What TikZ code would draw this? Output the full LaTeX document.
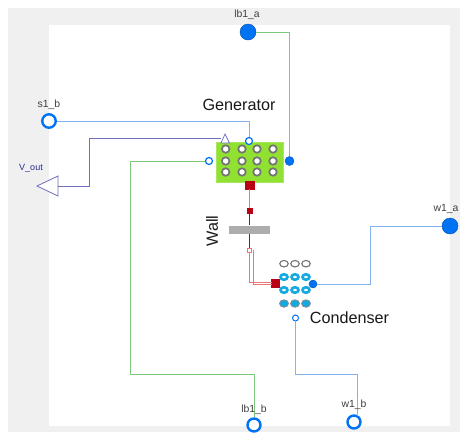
\documentclass[tikz,border=0pt]{standalone}
\usepackage{fontspec}
\setmainfont{Liberation Sans}
\usepackage{tikz}
\usetikzlibrary{arrows.meta, positioning, calc, shapes.geometric}
\definecolor{pageback}{RGB}{240,240,240}
\definecolor{portblue}{RGB}{0,115,245}
\definecolor{lineblue}{RGB}{130,180,235}
\definecolor{linegreen}{RGB}{125,200,125}
\definecolor{linepurple}{RGB}{110,110,190}
\definecolor{textpurple}{RGB}{40,40,150}
\definecolor{heatred}{RGB}{185,0,20}
\definecolor{heatpink}{RGB}{235,120,120}
\definecolor{gengreen}{RGB}{145,225,50}
\definecolor{tubecyan}{RGB}{20,170,225}
\tikzset{
    portopen/.style={circle, draw=portblue, fill=white, line width=2.4pt, inner sep=0pt, minimum size=#1},
    portfull/.style={circle, draw=black!30!portblue, fill=portblue, line width=0.4pt, inner sep=0pt, minimum size=#1},
    heatport/.style={rectangle, draw=heatred, fill=heatred, inner sep=0pt, minimum size=#1},
    portlabel/.style={font=\fontsize{10.4}{12}\selectfont, text=black!75},
    bigtitle/.style={font=\fontsize{16.2}{18}\selectfont, text=black!90},
    tubehole/.style={ellipse, draw=black!55, fill=white, line width=1.7pt, inner sep=0pt, minimum width=#1, minimum height=7.5pt},
    tubewarm/.style={ellipse, draw=tubecyan, fill=white, line width=2.6pt, inner sep=0pt, minimum width=7pt, minimum height=5.5pt},
    tubecold/.style={ellipse, draw=black!45, fill=tubecyan, line width=0.8pt, inner sep=0pt, minimum width=9pt, minimum height=7.5pt}
}
\begin{document}
\begin{tikzpicture}[x=1pt, y=-1pt]
    \clip (0,0) rectangle (460,432);
    % background
    \fill[pageback] (8,8) rectangle (460,432);
    \fill[white] (49,25) rectangle (450,426);

    % generator
    \node[draw=gengreen!80, fill=gengreen, inner sep=0pt, minimum width=67pt, minimum height=40pt] (generator) at (249.5,162) {};
    \foreach \xpos in {225.7,242,257,273}
        \foreach \ypos in {149,161,172}
            \node[tubehole=7.5pt] at (\xpos,\ypos) {};

    % condenser
    \foreach \xpos in {284,295,306}{
        \node[tubehole=8.5pt, minimum height=6.5pt, line width=1.1pt] at (\xpos,263.7) {};
        \foreach \ypos in {277,290}
            \node[tubewarm] at (\xpos,\ypos) {};
        \node[tubecold] at (\xpos,303.5) {};
    }

    % outer ports
    \node[portfull=16pt] (lba) at (248,32) {};
    \node[portopen=13.5pt] (sb) at (49,121) {};
    \node[portfull=16pt] (wa) at (450,226) {};
    \node[portopen=13pt] (lbb) at (254,425) {};
    \node[portopen=13pt] (wb) at (354,422) {};
    \coordinate (voutin) at (58,186);
    \draw[linepurple, fill=white, line width=0.8pt] (voutin) -- (58,176) -- (37,186) -- (58,196) -- cycle;

    % generator and condenser ports
    \node[portfull=9pt] (genheat) at (289.5,161) {};
    \node[portopen=7pt, line width=1.2pt] (gentop) at (249,141) {};
    \node[portopen=7pt, line width=1.2pt] (gencold) at (209,161) {};
    \node[portfull=8pt] (condhot) at (313,284) {};
    \node[portopen=6pt, line width=1pt] (condcold) at (295.5,318) {};
    \coordinate (vtri) at (221,138);
    \draw[linepurple, fill=white, line width=0.7pt] (221,143) -- (225,134) -- (229.5,143) -- cycle;

    % wall
    \node[heatport=8.5pt] (genwall) at (249.5,185) {};
    \node[heatport=4.5pt] (wallin) at (249.5,210.5) {};
    \node[fill=black!32, inner sep=0pt, minimum width=41pt, minimum height=8pt] (wall) at (249.5,229.5) {};
    \node[rectangle, draw=heatpink, fill=white, line width=0.6pt, inner sep=0pt, minimum size=4pt] (wallout) at (249.5,250) {};
    \node[heatport=8pt] (condwall) at (275.5,283.5) {};

    % connections
    \draw[linegreen, line width=0.8pt] (lba) -| (genheat);
    \draw[lineblue, line width=1pt] (sb) -| (gentop);
    \draw[linepurple, line width=1pt] (voutin) -| (89,138) -- (vtri);
    \draw[linegreen, line width=0.8pt] (gencold) -| (130,374) -| (lbb);
    \draw[lineblue, line width=1pt] (condcold) |- (357,374) -- (357,415.5);
    \draw[lineblue, line width=1pt] (condhot) -| (370,226) -- (wa);
    \draw[heatpink, line width=0.8pt] (genwall) -- (wallin);
    \draw[heatred, line width=0.9pt] (wallin) -- (wall) -- (wallout);
    \draw[heatpink, line width=0.7pt] (wallout.south) -- (249.5,282.2) -- (271.5,282.2);
    \draw[heatpink, line width=0.7pt] (253.7,250) -- (253.7,284.8) -- (271.5,284.8);

    % labels
    \node[portlabel] (lbatext) at (247,14.5) {lb1\_a};
    \node[portlabel] (sbtext) at (49,105) {s1\_b};
    \node[portlabel, font=\fontsize{9}{10}\selectfont, text=textpurple] (vouttext) at (31,168) {V\_out};
    \node[portlabel] (watext) at (446,209) {w1\_a};
    \node[portlabel] (lbbtext) at (254,410) {lb1\_b};
    \node[portlabel] (wbtext) at (354,405) {w1\_b};
    \node[bigtitle] (gentext) at (239,105) {Generator};
    \node[bigtitle, rotate=90] (walltext) at (212,231) {Wall};
    \node[bigtitle] (condtext) at (349.5,317.5) {Condenser};
\end{tikzpicture}
\end{document}
